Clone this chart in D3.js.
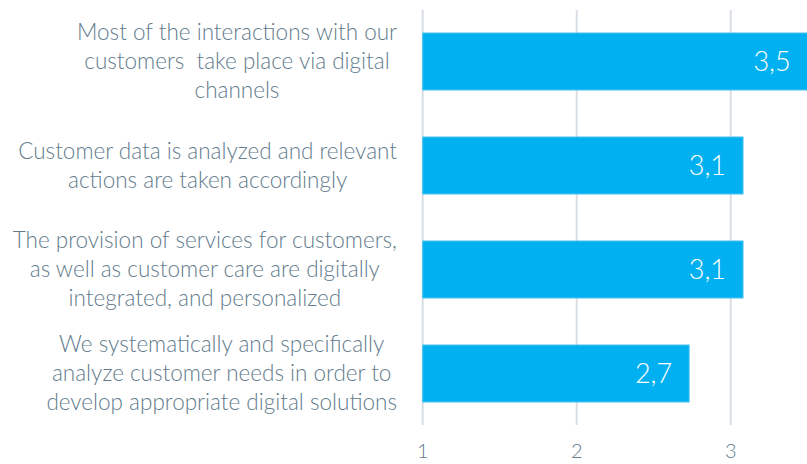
<!DOCTYPE html>
<html>
<head>
<meta charset="utf-8">
<script src="https://cdn.jsdelivr.net/npm/d3@7"></script>
<style>
  body { margin: 0; background: #fff; }
  svg { display: block; font-family: Lato, "Open Sans", sans-serif; }
  tspan { white-space: pre; }
</style>
</head>
<body>
<svg id="chart" width="807" height="464"></svg>
<script>
// statements, top to bottom
let categories = [
    ["Most of the interactions with our", "customers  take place via digital", "channels"],
    ["Customer data is analyzed and relevant", "actions are taken accordingly"],
    ["The provision of services for customers,", "as well as customer care are digitally", "integrated, and personalized"],
    ["We systematically and specifically", "analyze customer needs in order to", "develop appropriate digital solutions"]
];
let values = [3.5, 3.08, 3.08, 2.73];
let valueLabels = ["3,5", "3,1", "3,1", "2,7"];
let ticks = [1, 2, 3];

let svg = d3.select("#chart");
let x = d3.scaleLinear().domain([1, 3.5]).range([422.7, 807.7]);
let y = d3.scaleBand()
    .domain(d3.range(categories.length))
    .range([9.5, 425.5])
    .paddingInner(0.452)
    .paddingOuter(0.226);

let labelColor = "#637c8d";

// grid lines
svg.append("g").selectAll("line")
    .data(ticks)
    .enter()
    .append("line")
    .attr("x1", d => x(d))
    .attr("x2", d => x(d))
    .attr("y1", 10)
    .attr("y2", 425)
    .attr("stroke", "#d8dfe5")
    .attr("stroke-width", 2);

// bars
let bars = svg.append("g").selectAll("g")
    .data(values)
    .enter()
    .append("g");

bars.append("rect")
    .attr("x", x(1))
    .attr("y", (d, i) => y(i))
    .attr("width", d => x(d) - x(1))
    .attr("height", y.bandwidth())
    .attr("fill", "#00b0f0")
    .attr("stroke", "#45c2f0")
    .attr("stroke-width", 1);

bars.append("text")
    .attr("x", d => Math.min(x(d), 812) - 17)
    .attr("y", (d, i) => y(i) + y.bandwidth() / 2)
    .attr("dy", "0.36em")
    .attr("text-anchor", "end")
    .attr("fill", "#fff")
    .attr("font-size", 27)
    .attr("font-weight", 300)
    .text((d, i) => valueLabels[i]);

// category labels: centered block, right edge at 397
let labels = svg.append("g").selectAll("text")
    .data(categories)
    .enter()
    .append("text")
    .attr("fill", labelColor)
    .attr("font-size", 22.5)
    .attr("font-weight", 300)
    .attr("text-anchor", "middle");

labels.each(function (lines, i) {
    let t = d3.select(this);
    let cy = y(i) + y.bandwidth() / 2;
    let lh = 29;
    lines.forEach((line, j) => {
        t.append("tspan")
            .attr("y", cy + (j - (lines.length - 1) / 2) * lh)
            .attr("dy", "0.35em")
            .text(line);
    });
    let w = d3.max(t.selectAll("tspan").nodes(), n => n.getComputedTextLength());
    t.selectAll("tspan").attr("x", 397 - w / 2);
});

// x tick labels
svg.append("g").selectAll("text")
    .data(ticks)
    .enter()
    .append("text")
    .attr("x", d => x(d))
    .attr("y", 458)
    .attr("text-anchor", "middle")
    .attr("fill", labelColor)
    .attr("font-size", 20)
    .attr("font-weight", 300)
    .text(d => d);
</script>
</body>
</html>
